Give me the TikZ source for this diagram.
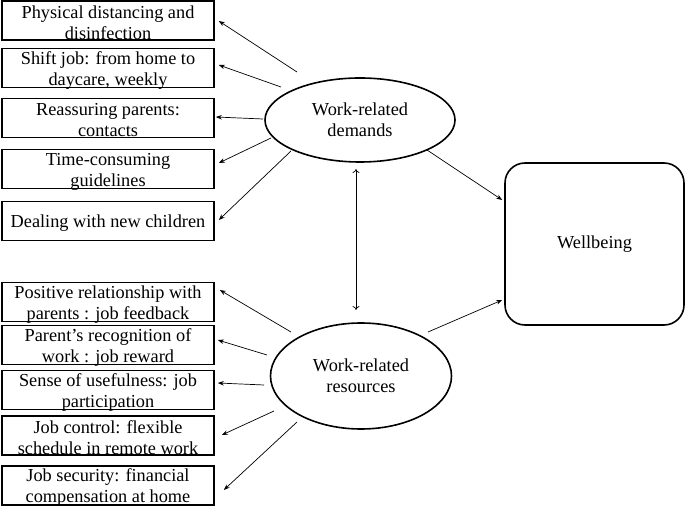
\documentclass[tikz,border=0pt]{standalone}
\usepackage{fontspec}
\setmainfont{Liberation Serif}
\usetikzlibrary{arrows.meta,shapes.geometric}
\begin{document}
\begin{tikzpicture}[x=1pt,y=-1pt,
  txt/.style={font=\fontsize{18.3}{21}\selectfont,align=center,inner sep=0pt},
  box/.style={draw,line width=1.6pt,minimum width=212pt,minimum height=39pt,inner sep=0pt},
  ell/.style={txt,draw,ellipse,line width=1.6pt,inner sep=0pt,align=center},
  arr/.style={line width=0.7pt,-{Stealth[length=6pt,width=4.5pt]}},
  darr/.style={line width=0.7pt,{To[length=4pt,width=7pt]}-{To[length=4pt,width=7pt]}}]
\useasboundingbox (0,0) rectangle (685,510);
% boxes: demands side
\node[box] (b1) at (108,20.5) {};
\node[box] (b2) at (108,68) {};
\node[box] (b3) at (108,118) {};
\node[box] (b4) at (108,169) {};
\node[box] (b5) at (108,221) {};
% boxes: resources side
\node[box] (b6) at (108,302) {};
\node[box] (b7) at (108,345) {};
\node[box] (b8) at (108,390) {};
\node[box] (b9) at (108,435.5) {};
\node[box] (b10) at (108,485.5) {};
% box texts
\node[txt] (t1) at ([shift={(0,2.5)}]b1.center) {Physical distancing and\\disinfection};
\node[txt] (t2) at ([shift={(0,2.5)}]b2.center) {Shift job: from home to\\daycare, weekly};
\node[txt] (t3) at ([shift={(0,2.5)}]b3.center) {Reassuring parents:\\contacts};
\node[txt] (t4) at ([shift={(0,2.5)}]b4.center) {Time-consuming\\guidelines};
\node[txt] (t5) at ([shift={(0,2)}]b5.center) {Dealing with new children};
\node[txt] (t6) at ([shift={(0,2.5)}]b6.center) {Positive relationship with\\parents : job feedback};
\node[txt] (t7) at ([shift={(0,2.5)}]b7.center) {Parent’s recognition of\\work : job reward};
\node[txt] (t8) at ([shift={(0,2.5)}]b8.center) {Sense of usefulness: job\\participation};
\node[txt] (t9) at ([shift={(0,2.5)}]b9.center) {Job control: flexible\\schedule in remote work};
\node[txt] (t10) at ([shift={(0,2.5)}]b10.center) {Job security: financial\\compensation at home};
% ellipses
\node[ell,minimum width=190pt,minimum height=84pt] (dem) at (360,120) {Work-related\\demands};
\node[ell,minimum width=181pt,minimum height=106pt] (res) at (361,376) {Work-related\\resources};
% wellbeing
\node[txt,draw,line width=1.6pt,rounded corners=20pt,minimum width=179pt,minimum height=162pt] (wb) at (594.5,244) {Wellbeing};
% start points
\coordinate (d1) at (297,72);
\coordinate (d2) at (281,87);
\coordinate (d3) at (263,119);
\coordinate (d4) at (271,138);
\coordinate (d5) at (291,151);
\coordinate (r1) at (291,332);
\coordinate (r2) at (267,355);
\coordinate (r3) at (264,385);
\coordinate (r4) at (274,411);
\coordinate (r5) at (297,422);
\coordinate (dw) at (427,150);
\coordinate (rw) at (428,332);
\coordinate (dv) at (356,169);
\coordinate (rv) at (356,310);
% arrows
\draw[arr] (d1) -- ([shift={(4,0.5)}]b1.east);
\draw[arr] (d2) -- ([shift={(4,-3)}]b2.east);
\draw[arr] (d3) -- ([shift={(1,-1)}]b3.east);
\draw[arr] (d4) -- ([shift={(4,-6)}]b4.east);
\draw[arr] (d5) -- ([shift={(4,-1)}]b5.east);
\draw[arr] (r1) -- ([shift={(5,-12)}]b6.east);
\draw[arr] (r2) -- ([shift={(3,-5)}]b7.east);
\draw[arr] (r3) -- ([shift={(3,-7)}]b8.east);
\draw[arr] (r4) -- ([shift={(7,-0.5)}]b9.east);
\draw[arr] (r5) -- ([shift={(9,4.5)}]b10.east);
\draw[arr] (dw) -- ([shift={(-2,-44)}]wb.west);
\draw[arr] (rw) -- ([shift={(-2,56)}]wb.west);
\draw[darr] (dv) -- (rv);
\end{tikzpicture}
\end{document}
